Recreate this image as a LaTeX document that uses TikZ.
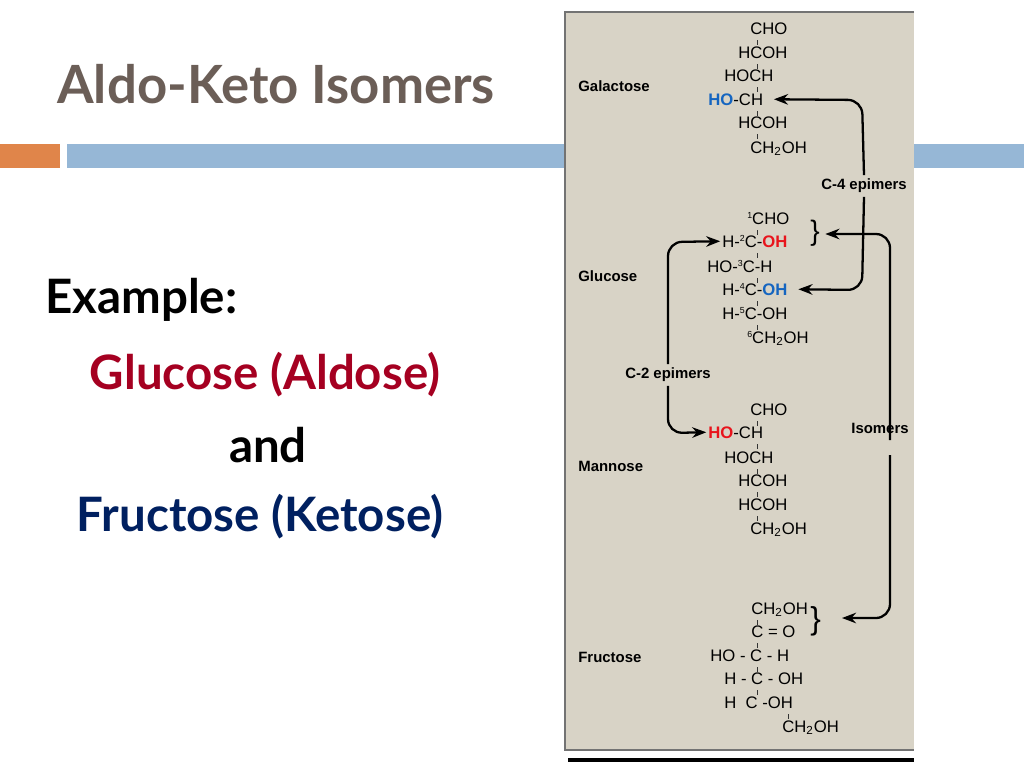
\documentclass[tikz,border=0pt]{standalone}
\usepackage{fontspec}
\setmainfont{Lato}
\newfontfamily\chemfont{Liberation Sans}
\usetikzlibrary{positioning}
\usetikzlibrary{arrows.meta}
\definecolor{titlegray}{HTML}{6B5E57}
\definecolor{barorange}{HTML}{E0854A}
\definecolor{barblue}{HTML}{96B7D6}
\definecolor{panel}{HTML}{D8D3C6}
\definecolor{aldred}{HTML}{A50021}
\definecolor{ketblue}{HTML}{002060}
\definecolor{ohblue}{HTML}{1565C0}
\definecolor{ohred}{HTML}{E8141C}
\newcommand{\ohb}[1]{\textcolor{ohblue}{\textbf{#1}}}
\newcommand{\ohr}[1]{\textcolor{ohred}{\textbf{#1}}}
\newcommand{\chtwo}{CH\textsubscript{2}OH}
\newcommand{\cnum}[1]{\raisebox{0.6ex}{\fontsize{5}{5}\selectfont #1}}

\begin{document}
\begin{tikzpicture}[x=0.02cm, y=-0.02cm, >={Stealth[length=8pt,width=6pt]}]
	\tikzstyle{slide}=[font=\fontsize{27}{30}\selectfont\bfseries, inner sep=0pt]
	\tikzstyle{sugar}=[font=\chemfont\fontsize{8.5}{10}\selectfont\bfseries, anchor=base west, inner sep=0pt]
	\tikzstyle{chem}=[font=\chemfont\fontsize{9.5}{11}\selectfont, anchor=base west, inner sep=0pt]
	\tikzstyle{link}=[draw=black, line width=1.3pt, rounded corners=8pt]
	\tikzstyle{bond}=[draw=black!80, line width=0.5pt]

	\useasboundingbox (0,0) rectangle (1024,768);
	\fill[white] (0,0) rectangle (1024,768);

	% title and bars
	\node[slide, anchor=west, text=titlegray, font=\fontsize{30}{33}\selectfont\bfseries] (title) at (57,84) {Aldo-Keto Isomers};
	\fill[barorange] (0,144) rectangle (60,168);
	\fill[barblue] (67,144) rectangle (1024,168);

	% left text
	\node[slide, anchor=west] (example) at (45,300) {Example:};
	\node[slide, text=aldred] (aldose) at (265,375) {Glucose (Aldose)};
	\node[slide] (and) at (268,445) {and};
	\node[slide, text=ketblue] (ketose) at (260,517) {Fructose (Ketose)};

	% panel
	\fill[panel] (565,12) rectangle (914,750);
	\draw[black!55, line width=0.8pt] (914,12) -- (565,12) -- (565,750) -- (914,750);
	\draw[black, line width=1.8pt] (568,760) -- (914,760);

	% sugar names
	\node[sugar] (galname) at (578,91) {Galactose};
	\node[sugar] (gluname) at (578,281) {Glucose};
	\node[sugar] (manname) at (578,471) {Mannose};
	\node[sugar] (fruname) at (578,662) {Fructose};

	% galactose
	\foreach \i/\x/\y/\t in {1/750/34/{CHO}, 2/738/58/{HCOH}, 3/724/81/{HOCH}, 4/708/105/{\ohb{HO}-CH}, 5/738/128/{HCOH}, 6/750/153/{\chtwo}}
		\node[chem] (gal\i) at (\x,\y) {\t};
	% glucose
	\foreach \i/\x/\y/\t in {1/747/224/{\cnum{1}CHO}, 2/722/247/{H-\cnum{2}C-\ohr{OH}}, 3/707/272/{HO-\cnum{3}C-H}, 4/722/295/{H-\cnum{4}C-\ohb{OH}}, 5/722/319/{H-\cnum{5}C-OH}, 6/747/343/{\cnum{6}\chtwo}}
		\node[chem] (glu\i) at (\x,\y) {\t};
	% mannose
	\foreach \i/\x/\y/\t in {1/750/415/{CHO}, 2/708/438/{\ohr{HO}-CH}, 3/724/463/{HOCH}, 4/738/486/{HCOH}, 5/738/510/{HCOH}, 6/750/534/{\chtwo}}
		\node[chem] (man\i) at (\x,\y) {\t};
	% fructose
	\foreach \i/\x/\y/\t in {1/751/614/{\chtwo}, 2/751/637/{C = O}, 3/710/661/{HO - C - H}, 4/724/684/{H - C - OH}, 5/724/708/{H\ \ C -OH}, 6/782/732/{\chtwo}}
		\node[chem] (fru\i) at (\x,\y) {\t};

	% bond ticks
	\foreach \y in {40,64,87,111,134, 230,253,278,301,325, 421,444,469,492,516, 620,643,667,690} 
		\draw[bond] (757,\y) -- (757,\y+5);
	\draw[bond] (788,714) -- (788,719);

	% braces
	\node[chem, font=\chemfont\fontsize{16}{16}\selectfont] (brglu) at (810,240) {\}};
	\node[chem, font=\chemfont\fontsize{18}{18}\selectfont] (brfru) at (810,629) {\}};

	% C-4 epimers
	\node[sugar, anchor=center, fill=panel, inner sep=2pt] (c4) at (864,186) {C-4 epimers};
	\draw[link, <-] ([xshift=6pt]gal4.east) -- (862,100) -- (c4.north);
	\draw[link, ->] (c4.south) -- (862,290) -- ([xshift=6pt]glu4.east);

	% C-2 epimers
	\node[sugar, anchor=center, inner sep=2pt] (c2) at (668,375) {C-2 epimers};
	\draw[link, ->] (c2.north) -- (668,242) -- ([xshift=-1pt]glu2.west);
	\draw[link, ->] (c2.south) -- (668,433) -- ([xshift=-1pt]man2.west);

	% isomers
	\node[sugar, anchor=center, inner sep=2pt] (iso) at (880,428) {Isomers};
	\draw[link, <-] ([xshift=3pt]brglu.east |- 0,234) -- (890,234) -- ([yshift=-12pt]iso.north -| 890,0);
	\draw[link, ->] (890,455) -- (890,618) -- (842,618);
\end{tikzpicture}
\end{document}
